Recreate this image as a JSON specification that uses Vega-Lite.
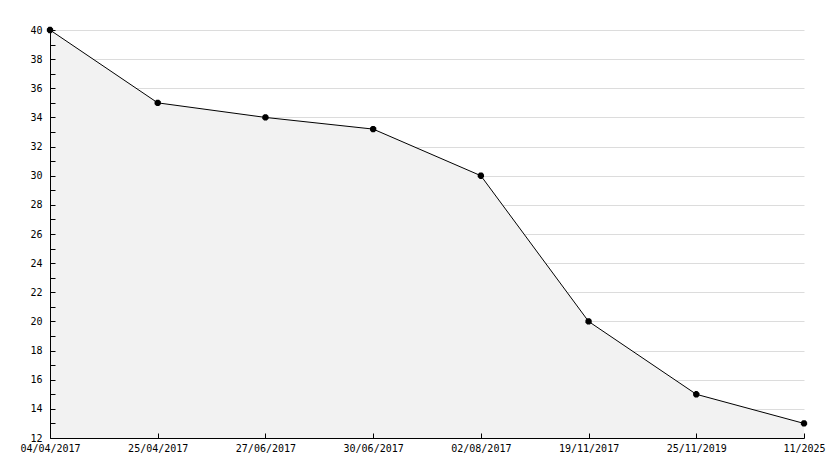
{
  "$schema": "https://vega.github.io/schema/vega-lite/v6.json",
  "autosize": "none",
  "padding": {"left": 50, "top": 30, "right": 30, "bottom": 30},
  "width": 754,
  "height": 408,
  "background": "white",
  "data": {"values": [
    {"date": "04/04/2017", "value": 40},
    {"date": "25/04/2017", "value": 35},
    {"date": "27/06/2017", "value": 34},
    {"date": "30/06/2017", "value": 33.2},
    {"date": "02/08/2017", "value": 30},
    {"date": "19/11/2017", "value": 20},
    {"date": "25/11/2019", "value": 15},
    {"date": "11/2025", "value": 13}
  ]},
  "config": {
    "view": {"stroke": null},
    "axis": {"labelFont": "DejaVu Sans Mono", "labelFontSize": 10, "labelColor": "#000", "domainColor": "#000", "tickColor": "#000", "domainWidth": 1, "labelOverlap": false, "labelBound": false, "labelFlush": false}
  },
  "encoding": {
    "x": {"field": "date", "type": "ordinal", "sort": null,
      "scale": {"type": "point", "padding": 0},
      "axis": {"title": null, "labelAngle": 0, "tickSize": -5, "labelPadding": 10, "grid": false, "zindex": 1}}
  },
  "resolve": {"axis": {"y": "independent"}},
  "layer": [
    {"mark": {"type": "area", "color": "#f2f2f2", "opacity": 1},
     "encoding": {
      "y": {"field": "value", "type": "quantitative",
        "scale": {"domain": [12, 40], "nice": false, "zero": false},
        "axis": {"title": null, "orient": "left", "values": [14,16,18,20,22,24,26,28,30,32,34,36,38,40],
          "domain": false, "ticks": false, "labels": false,
          "grid": true, "gridColor": "#dcdcdc", "zindex": 0}},
      "y2": {"datum": 12}}},
    {"mark": {"type": "line", "color": "#000", "strokeWidth": 1},
     "encoding": {
      "y": {"field": "value", "type": "quantitative",
        "scale": {"domain": [12, 40], "nice": false, "zero": false},
        "axis": {"title": null, "orient": "left", "values": [12,13,14,15,16,17,18,19,20,21,22,23,24,25,26,27,28,29,30,31,32,33,34,35,36,37,38,39,40],
          "labelExpr": "datum.value % 2 == 0 ? datum.label : ''",
          "tickSize": -5, "labelPadding": 13, "grid": false, "zindex": 1}}}},
    {"mark": {"type": "point", "shape": "cross", "filled": true, "color": "#000", "size": 40, "opacity": 1},
     "encoding": {"y": {"field": "value", "type": "quantitative", "axis": null}}},
    {"mark": {"type": "point", "shape": "cross", "angle": 45, "filled": true, "color": "#000", "size": 40, "opacity": 1},
     "encoding": {"y": {"field": "value", "type": "quantitative", "axis": null}}}
  ]
}
